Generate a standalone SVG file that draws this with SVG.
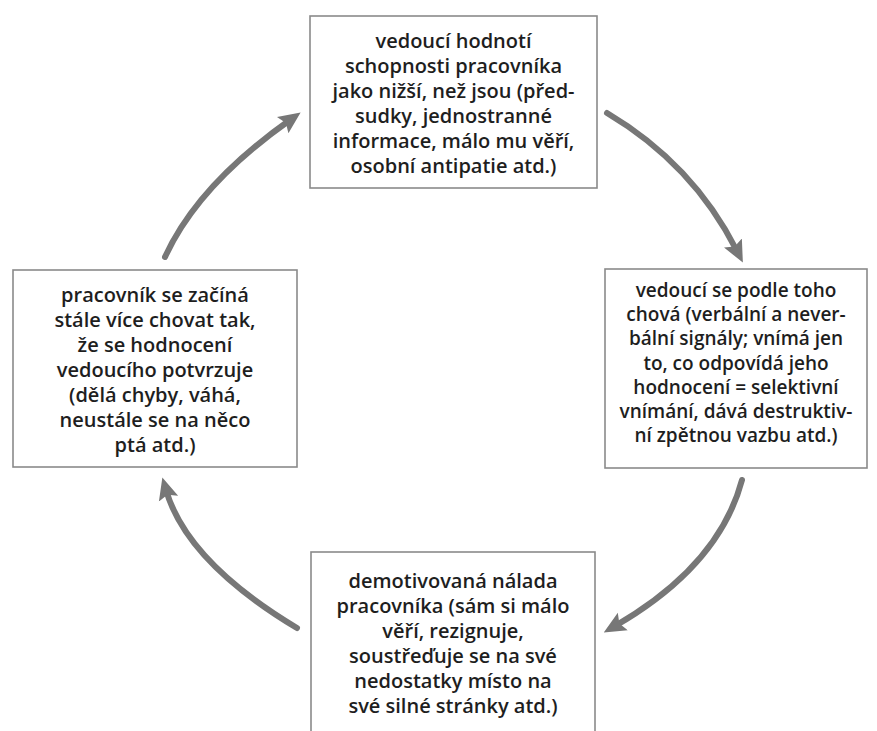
<svg xmlns="http://www.w3.org/2000/svg" width="877" height="731" viewBox="0 0 877 731">
<style>
.box{fill:#fff;stroke:#8a8a8a;stroke-width:1.6}
.t{font-family:"Open Sans","DejaVu Sans",sans-serif;font-weight:600;font-size:20px;fill:#1e1e1e;text-anchor:middle}
.s{font-size:19px}
.arr{fill:none;stroke:#777;stroke-width:6;stroke-linecap:round;marker-end:url(#ah)}
</style>
<defs>
<marker id="ah" markerUnits="userSpaceOnUse" viewBox="0 0 22 22" markerWidth="22" markerHeight="22" refX="9" refY="11" orient="auto">
<path d="M0,1 L22,11 L0,21 L4,11 Z" fill="#777"/>
</marker>
</defs>
<rect width="877" height="731" fill="#fff"/>
<g id="connectors">
<path class="arr" d="M607,113 Q693,164 737,251"/>
<path class="arr" d="M742,480 Q719,566 615,626"/>
<path class="arr" d="M297,628 Q187,562 166,490"/>
<path class="arr" d="M165,257 Q198,185 290,120"/>
</g>
<g id="n1">
<rect class="box" x="310" y="16" width="287" height="172"/>
<text class="t" x="453.5" y="48">vedoucí hodnotí</text>
<text class="t" x="453.5" y="73">schopnosti pracovníka</text>
<text class="t" x="453.5" y="98">jako nižší, než jsou (před-</text>
<text class="t" x="453.5" y="123">sudky, jednostranné</text>
<text class="t" x="453.5" y="148">informace, málo mu věří,</text>
<text class="t" x="453.5" y="173">osobní antipatie atd.)</text>
</g>
<g id="n2">
<rect class="box" x="605" y="269" width="262" height="199"/>
<text class="t s" x="736" y="297">vedoucí se podle toho</text>
<text class="t s" x="736" y="321">chová (verbální a never-</text>
<text class="t s" x="736" y="345">bální signály; vnímá jen</text>
<text class="t s" x="736" y="370">to, co odpovídá jeho</text>
<text class="t s" x="736" y="394">hodnocení = selektivní</text>
<text class="t s" x="736" y="418">vnímání, dává destruktiv-</text>
<text class="t s" x="736" y="442">ní zpětnou vazbu atd.)</text>
</g>
<g id="n3">
<rect class="box" x="311" y="552" width="284" height="200"/>
<text class="t" x="453" y="588">demotivovaná nálada</text>
<text class="t" x="453" y="613">pracovníka (sám si málo</text>
<text class="t" x="453" y="638">věří, rezignuje,</text>
<text class="t" x="453" y="663">soustřeďuje se na své</text>
<text class="t" x="453" y="688">nedostatky místo na</text>
<text class="t" x="453" y="713">své silné stránky atd.)</text>
</g>
<g id="n4">
<rect class="box" x="13" y="270" width="284" height="197"/>
<text class="t" x="155" y="302">pracovník se začíná</text>
<text class="t" x="155" y="327">stále více chovat tak,</text>
<text class="t" x="155" y="352">že se hodnocení</text>
<text class="t" x="155" y="377">vedoucího potvrzuje</text>
<text class="t" x="155" y="402">(dělá chyby, váhá,</text>
<text class="t" x="155" y="427">neustále se na něco</text>
<text class="t" x="155" y="452">ptá atd.)</text>
</g>
</svg>
